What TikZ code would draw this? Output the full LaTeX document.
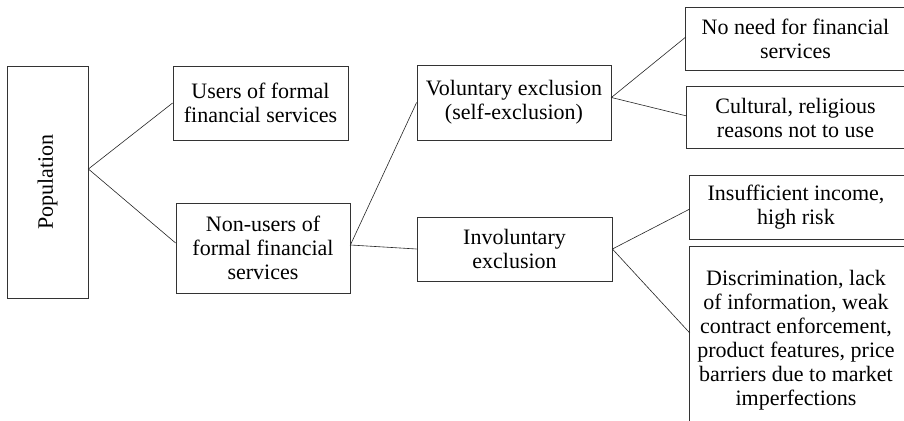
\documentclass[tikz,border=0pt]{standalone}
\usepackage{fontspec}
\setmainfont{Liberation Serif}
\begin{document}
\begin{tikzpicture}[x=1pt,y=-1pt,
  box/.style={draw=black!80, line width=0.8pt, align=center, inner sep=0pt,
    font=\fontsize{22}{24}\selectfont},
  openbox/.style={draw=none, align=center, inner sep=0pt,
    font=\fontsize{22}{24}\selectfont},
  link/.style={draw=black!85, line width=0.6pt}]
\useasboundingbox (0,0) rectangle (904,420);
\fill[white] (0,0) rectangle (904,420);
% left column
\node[box, minimum width=81pt, minimum height=232pt] (pop) at (47.5,182) {\rotatebox{90}{Population}};
\node[box, minimum width=175pt, minimum height=74pt] (users) at (260.5,103) {Users of formal\\financial services};
\node[box, minimum width=174pt, minimum height=90pt] (nonusers) at (263,248) {Non-users of\\formal financial\\services};
\node[box, minimum width=194pt, minimum height=75pt] (vol) at (514,102.5) {Voluntary exclusion\\(self-exclusion)};
\node[box, minimum width=195pt, minimum height=64pt] (invol) at (514.5,249) {Involuntary\\exclusion};
% right column (cut off at the picture edge)
\node[openbox, minimum width=219pt, minimum height=62pt] (noneed) at (795.5,39) {No need for financial\\services};
\node[openbox, minimum width=217pt, minimum height=61pt] (cult) at (795.5,117.5) {Cultural, religious\\reasons not to use};
\node[openbox, minimum width=212pt, minimum height=63pt] (insuff) at (796,207.5) {Insufficient income,\\high risk};
\node[openbox, minimum width=212pt, minimum height=186pt] (discr) at (796,340) {Discrimination, lack\\of information, weak\\contract enforcement,\\product features, price\\barriers due to market\\imperfections};
\foreach \n in {noneed,cult,insuff}{
  \draw[black!80, line width=0.8pt] ([xshift=20pt]\n.north east) -- (\n.north west) -- (\n.south west) -- ([xshift=20pt]\n.south east);
}
\draw[black!80, line width=0.8pt] ([xshift=20pt]discr.north east) -- (discr.north west) -- (discr.south west);
% connectors
\coordinate (popout) at ([yshift=13pt]pop.east);
\draw[link] (users.west) -- (popout) -- ([yshift=5pt]nonusers.west);
\coordinate (nuout) at ([yshift=3pt]nonusers.east);
\draw[link] (vol.west) -- (nuout) -- (invol.west);
\coordinate (volout) at ([yshift=5pt]vol.east);
\draw[link] ([yshift=2pt]noneed.west) -- (volout) -- ([yshift=1.5pt]cult.west);
\draw[link] ([yshift=-1.5pt]insuff.west) -- (invol.east) -- ([yshift=7pt]discr.west);
\end{tikzpicture}
\end{document}
